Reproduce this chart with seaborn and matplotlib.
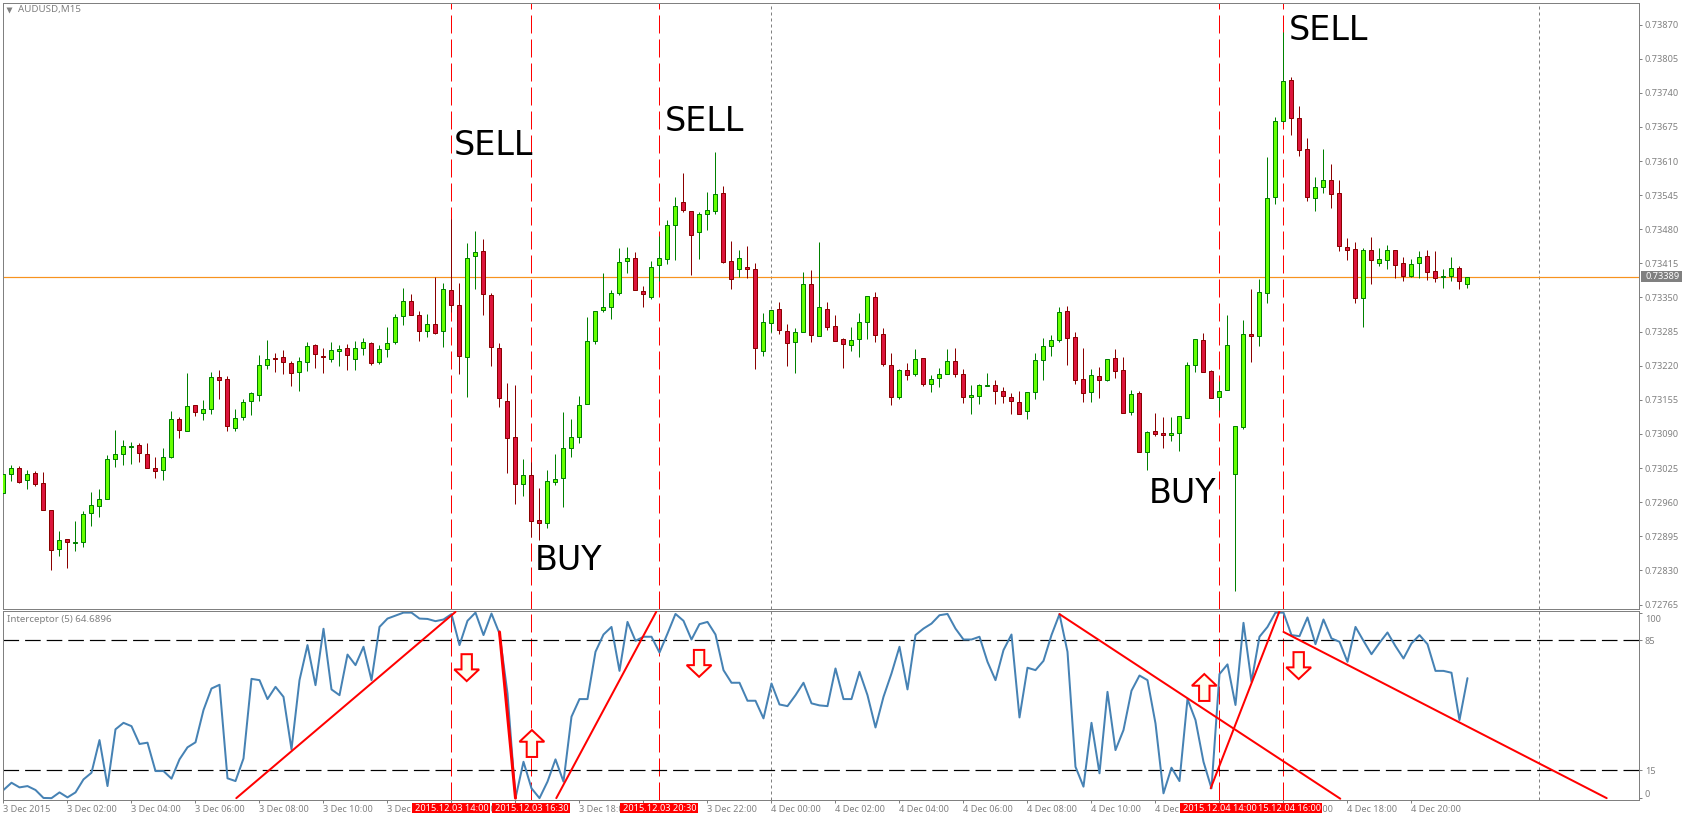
import pandas as pd
import numpy as np
import matplotlib
matplotlib.use("Agg")
import matplotlib.pyplot as plt
from matplotlib.patches import Rectangle
from matplotlib.transforms import ScaledTranslation
import seaborn as sns

# AUDUSD M15 candles, prices in points (1e-5)
open_pts = [72978, 73013, 73025, 73002, 73015, 72996, 72945, 72871, 72890, 72882,
            72884, 72939, 72952, 72966, 73042, 73051, 73065, 73069, 73051, 73025,
            73021, 73047, 73118, 73095, 73145, 73130, 73137, 73198, 73194, 73101,
            73122, 73152, 73164, 73221, 73234, 73236, 73225, 73208, 73227, 73259,
            73238, 73232, 73248, 73253, 73232, 73253, 73263, 73227, 73252, 73265,
            73314, 73343, 73316, 73286, 73299, 73287, 73365, 73335, 73236, 73430,
            73438, 73354, 73253, 73152, 73085, 72994, 73011, 72927, 72920, 72998,
            73007, 73063, 73085, 73148, 73268, 73327, 73331, 73358, 73419, 73425,
            73362, 73350, 73411, 73423, 73489, 73531, 73514, 73474, 73510, 73514,
            73550, 73419, 73405, 73409, 73404, 73249, 73301, 73329, 73287, 73265,
            73285, 73375, 73276, 73329, 73295, 73270, 73259, 73271, 73303, 73351,
            73280, 73221, 73160, 73212, 73204, 73234, 73185, 73196, 73204, 73229,
            73204, 73160, 73162, 73181, 73183, 73172, 73160, 73151, 73134, 73170,
            73231, 73257, 73269, 73324, 73274, 73194, 73170, 73200, 73193, 73234,
            73212, 73132, 73168, 73055, 73095, 73092, 73088, 73092, 73121, 73221,
            73269, 73210, 73160, 73174, 73013, 73103, 73281, 73276, 73358, 73541,
            73686, 73764, 73692, 73633, 73539, 73560, 73573, 73549, 73446, 73442,
            73349, 73440, 73415, 73421, 73440, 73415, 73391, 73415, 73429, 73400,
            73389, 73391, 73406, 73375]
close_pts = [73013, 73025, 72999, 73013, 72994, 72945, 72869, 72888, 72884, 72884,
             72937, 72954, 72966, 73042, 73051, 73067, 73067, 73053, 73025, 73019,
             73046, 73118, 73097, 73143, 73132, 73137, 73198, 73192, 73105, 73120,
             73151, 73168, 73221, 73232, 73232, 73227, 73206, 73229, 73257, 73242,
             73236, 73250, 73252, 73240, 73253, 73265, 73225, 73252, 73263, 73312,
             73343, 73316, 73286, 73299, 73283, 73367, 73335, 73238, 73426, 73436,
             73356, 73255, 73158, 73082, 72994, 73011, 72925, 72920, 73000, 73004,
             73064, 73084, 73146, 73268, 73325, 73331, 73358, 73417, 73426, 73364,
             73356, 73409, 73425, 73489, 73525, 73516, 73470, 73510, 73516, 73548,
             73418, 73386, 73426, 73404, 73253, 73303, 73327, 73289, 73263, 73284,
             73375, 73278, 73331, 73293, 73268, 73261, 73269, 73303, 73353, 73278,
             73223, 73160, 73212, 73202, 73233, 73185, 73194, 73204, 73229, 73204,
             73160, 73164, 73183, 73183, 73172, 73162, 73153, 73128, 73170, 73231,
             73257, 73269, 73322, 73273, 73193, 73168, 73202, 73193, 73233, 73210,
             73130, 73166, 73055, 73094, 73090, 73088, 73092, 73124, 73221, 73271,
             73208, 73158, 73172, 73259, 73105, 73281, 73276, 73360, 73539, 73686,
             73762, 73692, 73631, 73541, 73560, 73573, 73547, 73448, 73440, 73349,
             73440, 73421, 73423, 73440, 73412, 73391, 73413, 73427, 73398, 73387,
             73391, 73406, 73381, 73389]
high_pts = [73018, 73031, 73029, 73021, 73019, 73018, 72945, 72905, 72890, 72924,
            72943, 72979, 72985, 73050, 73098, 73078, 73074, 73072, 73072, 73046,
            73064, 73133, 73122, 73206, 73145, 73154, 73208, 73212, 73200, 73137,
            73156, 73170, 73240, 73269, 73244, 73250, 73229, 73236, 73265, 73261,
            73253, 73265, 73259, 73261, 73267, 73272, 73265, 73259, 73293, 73318,
            73368, 73356, 73324, 73318, 73389, 73377, 73499, 73377, 73454, 73476,
            73461, 73358, 73263, 73188, 73184, 73042, 73037, 72988, 73021, 73051,
            73131, 73118, 73162, 73312, 73325, 73396, 73364, 73444, 73447, 73436,
            73371, 73419, 73467, 73497, 73541, 73588, 73514, 73512, 73551, 73628,
            73562, 73457, 73440, 73449, 73415, 73320, 73327, 73341, 73299, 73291,
            73398, 73402, 73455, 73341, 73316, 73272, 73294, 73320, 73353, 73360,
            73292, 73244, 73214, 73225, 73252, 73234, 73202, 73215, 73252, 73254,
            73214, 73183, 73185, 73206, 73193, 73179, 73168, 73172, 73170, 73244,
            73273, 73278, 73332, 73334, 73284, 73254, 73214, 73217, 73233, 73252,
            73236, 73174, 73172, 73095, 73130, 73123, 73123, 73124, 73227, 73271,
            73282, 73212, 73191, 73316, 73105, 73308, 73366, 73385, 73618, 73693,
            73855, 73770, 73714, 73653, 73579, 73633, 73605, 73573, 73463, 73455,
            73444, 73465, 73444, 73450, 73440, 73427, 73423, 73438, 73440, 73438,
            73404, 73427, 73410, 73389]
low_pts = [72976, 73001, 72997, 72986, 72990, 72945, 72831, 72858, 72835, 72867,
           72875, 72915, 72932, 72966, 73027, 73031, 73033, 73037, 73025, 73006,
           73003, 73045, 73083, 73095, 73125, 73117, 73128, 73157, 73096, 73096,
           73117, 73126, 73153, 73214, 73208, 73205, 73182, 73172, 73210, 73216,
           73206, 73227, 73220, 73212, 73212, 73241, 73222, 73224, 73237, 73262,
           73298, 73316, 73267, 73275, 73281, 73256, 73322, 73204, 73160, 73366,
           73317, 73219, 73141, 73016, 72957, 72972, 72893, 72888, 72911, 72993,
           72951, 73047, 73073, 73148, 73262, 73323, 73309, 73355, 73397, 73364,
           73332, 73348, 73381, 73414, 73421, 73513, 73393, 73423, 73478, 73510,
           73416, 73366, 73389, 73387, 73214, 73238, 73285, 73280, 73219, 73206,
           73285, 73266, 73276, 73289, 73268, 73216, 73249, 73237, 73271, 73265,
           73219, 73146, 73157, 73193, 73201, 73182, 73170, 73180, 73204, 73199,
           73149, 73128, 73147, 73181, 73147, 73149, 73128, 73128, 73119, 73157,
           73193, 73239, 73266, 73222, 73186, 73151, 73151, 73159, 73190, 73197,
           73130, 73127, 73055, 73022, 73087, 73064, 73077, 73058, 73120, 73208,
           73208, 73158, 73136, 73174, 72790, 73100, 73228, 73257, 73339, 73528,
           73684, 73660, 73619, 73533, 73514, 73550, 73521, 73439, 73422, 73340,
           73293, 73376, 73410, 73405, 73387, 73382, 73389, 73387, 73384, 73380,
           73369, 73382, 73367, 73369]

# Interceptor (5) readings, one per candle
interceptor = [4.4, 8.3, 5.8, 6.5, 4.4, 0.1, 0.0, 3.1, 0.4, 3.1,
               10.1, 13.7, 31.3, 6.5, 37.1, 40.6, 38.8, 29.2, 29.9, 14.6,
               14.6, 10.5, 20.9, 27.4, 30.1, 47.5, 59.1, 61.1, 10.7, 9.2,
               21.4, 64.3, 63.6, 53.4, 60.0, 54.6, 26.3, 63.6, 82.5, 60.9,
               91.3, 58.6, 55.5, 77.4, 71.7, 81.6, 63.6, 92.3, 96.8, 98.4,
               100.0, 100.0, 96.8, 96.6, 95.4, 96.3, 99.2, 82.5, 95.6, 100.0,
               87.9, 99.5, 88.7, 56.4, 0.0, 19.6, 5.3, 0.0, 8.9, 20.9,
               8.9, 43.9, 53.4, 53.4, 78.9, 88.2, 92.3, 68.6, 95.0, 84.8,
               87.0, 87.0, 78.5, 88.7, 99.3, 95.6, 85.5, 93.8, 95.0, 88.2,
               69.0, 62.2, 62.2, 52.5, 52.5, 43.0, 61.8, 50.5, 49.6, 55.5,
               62.2, 51.1, 50.0, 49.6, 69.9, 53.4, 53.4, 68.1, 55.5, 38.1,
               54.6, 67.2, 81.6, 58.6, 87.9, 91.4, 94.1, 98.6, 99.3, 91.4,
               85.5, 85.5, 87.0, 73.5, 63.6, 79.8, 88.2, 43.5, 70.3, 69.0,
               74.0, 87.9, 99.2, 78.9, 16.9, 6.2, 40.6, 13.4, 57.3, 25.9,
               36.7, 57.9, 66.1, 63.6, 40.3, 2.6, 16.4, 9.2, 53.4, 42.1,
               19.6, 5.3, 66.9, 72.1, 50.2, 94.5, 62.7, 87.0, 92.3, 100.0,
               100.0, 87.9, 87.3, 97.4, 83.0, 96.3, 86.1, 84.3, 73.5, 92.3,
               84.8, 77.6, 83.7, 89.3, 81.9, 75.3, 83.4, 87.9, 83.0, 68.6,
               68.6, 67.6, 42.1, 64.6896]

# drawn trend lines: start bar, start value, end bar, end value, width
trend_lines = [(29.1, 0.0, 56.5, 100.4, 2.0),
               (62.0, 89.6, 64.0, 0.0, 3.0),
               (69.1, 0.0, 81.6, 100.5, 2.0),
               (132.0, 99.2, 167.1, -0.3, 2.0),
               (150.9, 5.3, 159.5, 100.8, 2.0),
               (160.0, 89.6, 200.4, 0.0, 2.0)]

signal_bars = [160, 152, 82, 66, 56]
signal_labels = ["15.12.04 16:00", "2015.12.04 14:00", "2015.12.03 20:30", "2015.12.03 16:30", "2015.12.03 14:00"]
period_bars = [96, 192]

arrow_bars = [57.9, 66.05, 86.95, 150.1, 161.9]
arrow_tips = [63.1, 36.7, 65.4, 66.9, 64.2]
arrow_up = [False, True, False, True, False]

notes = ["SELL", "SELL", "SELL", "BUY", "BUY"]
note_bars = [56.3, 82.6, 160.7, 66.4, 143.2]
note_prices = [73622, 73667, 73840, 72831, 72958]

price_ticks = [72765, 72830, 72895, 72960, 73025, 73090, 73155, 73220, 73285,
               73350, 73415, 73480, 73545, 73610, 73675, 73740, 73805, 73870]
last_price = 73389
level_ticks = [0, 15, 85, 100]

time_tick_bars = list(range(0, 177, 8))
time_tick_labels = ["3 Dec 2015", "3 Dec 02:00", "3 Dec 04:00", "3 Dec 06:00", "3 Dec 08:00", "3 Dec 10:00",
                    "3 Dec 12:00", "3 Dec 14:00", "3 Dec 16:00", "3 Dec 18:00", "3 Dec 20:00", "3 Dec 22:00",
                    "4 Dec 00:00", "4 Dec 02:00", "4 Dec 04:00", "4 Dec 06:00", "4 Dec 08:00", "4 Dec 10:00",
                    "4 Dec 12:00", "4 Dec 14:00", "4 Dec 16:00", "4 Dec 18:00", "4 Dec 20:00"]

W, H = 1682, 817
PX = 0.72
GREY = "#808080"

sns.set_theme(style="white")
plt.rcParams['font.family'] = ['Noto Sans', 'DejaVu Sans']

candles = pd.DataFrame({"open": open_pts, "high": high_pts, "low": low_pts, "close": close_pts}) / 1e5
candles["bar"] = candles.index
candles["up"] = candles["close"] >= candles["open"]
candles["interceptor"] = interceptor

fig = plt.figure(figsize=(W / 100, H / 100), dpi=100, facecolor="white")
left, right = 2.5, 1639
top1, bot1, top2, bot2 = 2.5, 608.5, 610.5, 799.5
ax = fig.add_axes([left / W, 1 - bot1 / H, (right - left) / W, (bot1 - top1) / H])
ax2 = fig.add_axes([left / W, 1 - bot2 / H, (right - left) / W, (bot2 - top2) / H])

xlim = (-0.125, 204.44)
for a in (ax, ax2):
    a.set_xlim(*xlim)
    for s in a.spines.values():
        s.set_color(GREY)
        s.set_linewidth(PX)
    a.yaxis.tick_right()
    a.tick_params(axis="both", which="both", length=2.2, width=PX, color=GREY, labelcolor=GREY,
                  labelsize=6.6, pad=2, bottom=True, right=True, left=False)
    for b in signal_bars:
        a.axvline(b, color="red", lw=PX, dashes=(18, 6), zorder=1)
    for b in period_bars:
        a.axvline(b, color=GREY, lw=PX, dashes=(3, 3), zorder=1)

# price panel
ax.set_ylim(0.727575, 0.73912)
ax.axhline(last_price / 1e5, color="#f7931e", lw=PX * 1.2, zorder=1.5)
for up, edge, fill in [(True, "#008000", "#66ff00"), (False, "#8b0000", "#dc143c")]:
    part = candles[candles["up"] == up]
    ax.vlines(part["bar"], part["low"], part["high"], color=edge, lw=PX, zorder=2)
    ax.bar(part["bar"], (part["close"] - part["open"]).abs(), bottom=part[["open", "close"]].min(axis=1),
           width=0.5, color=fill, edgecolor=edge, linewidth=PX, zorder=3)
ax.set_xticks([])
ax.set_yticks([p / 1e5 for p in price_ticks])
ax.set_yticklabels(["%.5f" % (p / 1e5) for p in price_ticks])
fig.add_artist(Rectangle((1641 / W, 1 - 282 / H), 41 / W, 11 / H, transform=fig.transFigure,
                         facecolor=GREY, edgecolor="none", zorder=5))
fig.text(1645 / W, 1 - 276.5 / H, "%.5f" % (last_price / 1e5), color="white", fontsize=6.6,
         va="center", ha="left", zorder=6)
for txt, b, p in zip(notes, note_bars, note_prices):
    ax.text(b, p / 1e5, txt, fontsize=24, family="DejaVu Sans", color="black", va="baseline", ha="left", zorder=6)
ax.plot([0.004], [0.9876], marker="v", ms=5, color=GREY, mec="none", transform=ax.transAxes, zorder=6)
ax.text(18, H - 9.5, "AUDUSD,M15", transform=None, color=GREY, fontsize=7, va="center", ha="left")

# indicator panel
ax2.axhline(85, color="black", lw=PX * 1.2, dashes=(13, 5), zorder=1)
ax2.axhline(15, color="black", lw=PX * 1.2, dashes=(13, 5), zorder=1)
sns.lineplot(data=candles, x="bar", y="interceptor", ax=ax2, color="#4682b4", linewidth=2 * PX, errorbar=None, zorder=2)
for x0, y0, x1, y1, lw in trend_lines:
    sns.lineplot(x=[x0, x1], y=[y0, y1], ax=ax2, color="red", linewidth=lw * PX, errorbar=None, zorder=3)
ax2.set_xlabel("")
ax2.set_ylabel("")
ax2.set_xlim(*xlim)
ax2.set_ylim(-0.73, 101.15)

for b, tip, up in zip(arrow_bars, arrow_tips, arrow_up):
    d = -1 if up else 1
    xs = [b, b + 1.55, b + 0.65, b + 0.65, b - 0.65, b - 0.65, b - 1.55]
    ys = [tip, tip + d * 6.3, tip + d * 6.3, tip + d * 14.5, tip + d * 14.5, tip + d * 6.3, tip + d * 6.3]
    ax2.fill(xs, ys, facecolor="#fffff0", edgecolor="red", linewidth=2 * PX, zorder=4)

ax2.set_xticks(time_tick_bars)
ax2.set_xticklabels(time_tick_labels, ha="left")
ax2.set_yticks(level_ticks)
ax2.set_yticklabels([str(v) for v in level_ticks])
for lab, v in zip(ax2.get_yticklabels(), level_ticks):
    lab.set_va({0: "bottom", 100: "top"}.get(v, "center"))
    nudge = 2 if v == 100 else 1
    lab.set_transform(lab.get_transform() + ScaledTranslation(0, -nudge / 100, fig.dpi_scale_trans))
ax2.text(7, H - 620, "Interceptor (5) 64.6896", transform=None, color=GREY, fontsize=7, va="center", ha="left")

# red time labels, later ones sit on top
for n, (b, lab) in enumerate(zip(signal_bars, signal_labels)):
    ax2.add_patch(Rectangle((b - 4.875, -0.0714), 9.75, 0.0529, transform=ax2.get_xaxis_transform(),
                            facecolor="red", edgecolor="none", clip_on=False, zorder=10 + n))
    ax2.text(b + (0.75 if n == 0 else 0), -0.045, lab, transform=ax2.get_xaxis_transform(), color="white", fontsize=6.6,
             ha="center", va="center", clip_on=False, zorder=10.5 + n)

fig.savefig("out.png", dpi=100)
